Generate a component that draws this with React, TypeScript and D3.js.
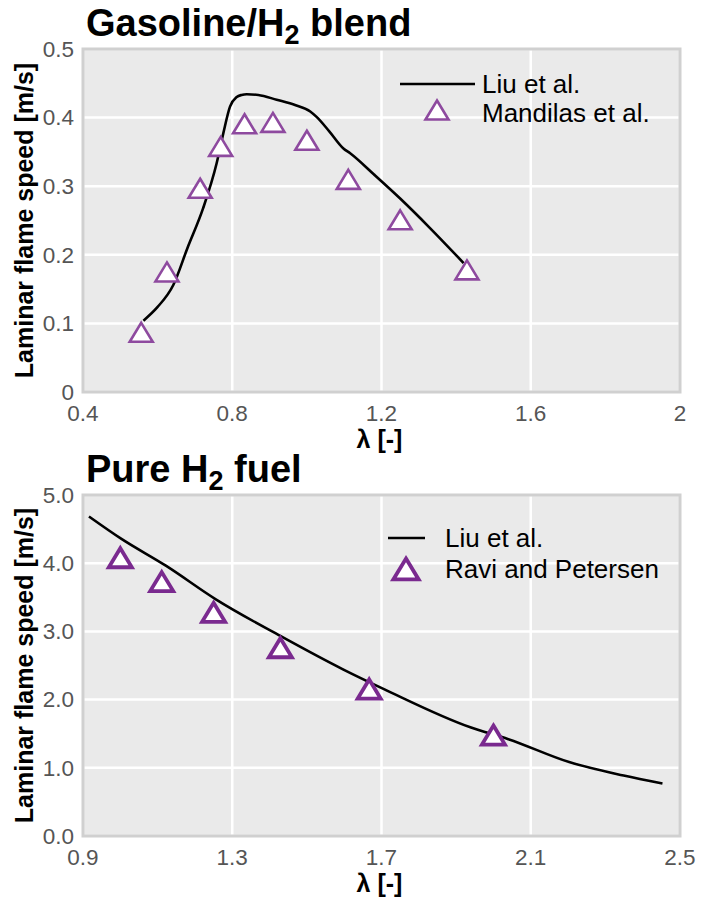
import React from "react";
import * as d3 from "d3";

// ---- Data: Gasoline/H2 blend ----
const blendLiuLambda = [0.562, 0.6, 0.642, 0.68, 0.722, 0.758, 0.776, 0.794, 0.812, 0.825, 0.839, 0.87, 0.919, 0.97, 1.009, 1.026, 1.06, 1.098, 1.116, 1.18, 1.25, 1.33, 1.42];
const blendLiuSpeed = [0.104, 0.124, 0.156, 0.21, 0.268, 0.333, 0.377, 0.416, 0.43, 0.433, 0.434, 0.433, 0.426, 0.418, 0.409, 0.401, 0.38, 0.355, 0.348, 0.317, 0.282, 0.239, 0.188];
const blendExpLambda = [0.556, 0.625, 0.714, 0.769, 0.833, 0.909, 1.0, 1.111, 1.25, 1.429];
const blendExpSpeed = [0.087, 0.175, 0.297, 0.358, 0.391, 0.393, 0.367, 0.31, 0.251, 0.178];
const blendXTicks = [0.4, 0.8, 1.2, 1.6, 2];
const blendXTickLabels = ["0.4", "0.8", "1.2", "1.6", "2"];
const blendYTicks = [0, 0.1, 0.2, 0.3, 0.4, 0.5];
const blendYTickLabels = ["0", "0.1", "0.2", "0.3", "0.4", "0.5"];

// ---- Data: Pure H2 fuel ----
const h2LiuLambda = [0.916, 1.002, 1.123, 1.256, 1.43, 1.598, 1.708, 1.94, 2.04, 2.205, 2.349, 2.453];
const h2LiuSpeed = [4.685, 4.36, 3.96, 3.47, 2.93, 2.44, 2.15, 1.59, 1.42, 1.08, 0.887, 0.77];
const h2ExpLambda = [1.0, 1.111, 1.25, 1.429, 1.667, 2.0];
const h2ExpSpeed = [4.08, 3.73, 3.28, 2.76, 2.155, 1.48];
const h2XTicks = [0.9, 1.3, 1.7, 2.1, 2.5];
const h2XTickLabels = ["0.9", "1.3", "1.7", "2.1", "2.5"];
const h2YTicks = [0, 1, 2, 3, 4, 5];
const h2YTickLabels = ["0.0", "1.0", "2.0", "3.0", "4.0", "5.0"];

const FONT = "'Liberation Sans', Arial, Helvetica, sans-serif";

type PanelProps = {
  top: number;
  bottom: number;
  title: string;
  titleSuffix: string;
  xDomain: [number, number];
  yDomain: [number, number];
  xTicks: number[];
  xTickLabels: string[];
  yTicks: number[];
  yTickLabels: string[];
  lineX: number[];
  lineY: number[];
  ptsX: number[];
  ptsY: number[];
  expLabel: string;
  markerColor: string;
  markerStroke: number;
  markerHalfW: number;
  markerHalfH: number;
  legend: { lineX0: number; lineX1: number; lineY: number; textX: number; row1: number; row2: number; triX: number; triY: number; fontSize: number; triScale: number };
};

const LEFT = 83;
const RIGHT = 680;

function tri(cx: number, cy: number, hw: number, hh: number) {
  return `M${cx},${cy - hh}L${cx + hw},${cy + hh}L${cx - hw},${cy + hh}Z`;
}

function Panel(p: PanelProps) {
  const x = d3.scaleLinear().domain(p.xDomain).range([LEFT, RIGHT]);
  const y = d3.scaleLinear().domain(p.yDomain).range([p.bottom, p.top]);
  const line = d3
    .line<number>()
    .x((_, i) => x(p.lineX[i]))
    .y((d) => y(d))
    .curve(d3.curveMonotoneX);
  const lg = p.legend;
  return (
    <g>
      <text x={86} y={p.top - 13} fontFamily={FONT} fontWeight="bold" fontSize={38} fill="#000">
        {p.title}
        <tspan fontSize={27} dy={8}>2</tspan>
        <tspan dy={-8}>{p.titleSuffix}</tspan>
      </text>
      <rect x={LEFT} y={p.top} width={RIGHT - LEFT} height={p.bottom - p.top} fill="#eaeaea" />
      {p.xTicks.map((t, i) => (
        <line key={"gx" + i} x1={x(t)} x2={x(t)} y1={p.top} y2={p.bottom} stroke="#fff" strokeWidth={2.5} />
      ))}
      {p.yTicks.map((t, i) => (
        <line key={"gy" + i} x1={LEFT} x2={RIGHT} y1={y(t)} y2={y(t)} stroke="#fff" strokeWidth={2.5} />
      ))}
      <rect x={LEFT} y={p.top} width={RIGHT - LEFT} height={p.bottom - p.top} fill="none" stroke="#d0d0d0" strokeWidth={3} />
      <path d={line(p.lineY) || ""} fill="none" stroke="#000" strokeWidth={2.6} />
      {p.ptsX.map((v, i) => (
        <path key={"pt" + i} d={tri(x(v), y(p.ptsY[i]), p.markerHalfW, p.markerHalfH)} fill="#fff" stroke={p.markerColor} strokeWidth={p.markerStroke} strokeLinejoin="miter" />
      ))}
      {p.yTicks.map((t, i) => (
        <text key={"ty" + i} x={LEFT - 9} y={y(t)} dy="0.35em" textAnchor="end" fontFamily={FONT} fontSize={22.5} fill="#555">
          {p.yTickLabels[i]}
        </text>
      ))}
      {p.xTicks.map((t, i) => (
        <text key={"tx" + i} x={x(t)} y={p.bottom + 29} textAnchor="middle" fontFamily={FONT} fontSize={22.5} fill="#555">
          {p.xTickLabels[i]}
        </text>
      ))}
      <text x={(LEFT + RIGHT) / 2 - 2} y={p.bottom + 56} textAnchor="middle" fontFamily={FONT} fontWeight="bold" fontSize={25} fill="#000">
        λ [-]
      </text>
      <text
        transform={`translate(33,${(p.top + p.bottom) / 2}) rotate(-90)`}
        textAnchor="middle"
        fontFamily={FONT}
        fontWeight="bold"
        fontSize={25}
        fill="#000"
      >
        Laminar flame speed [m/s]
      </text>
      {/* legend */}
      <line x1={lg.lineX0} x2={lg.lineX1} y1={lg.lineY} y2={lg.lineY} stroke="#000" strokeWidth={2.6} />
      <path d={tri(lg.triX, lg.triY, p.markerHalfW * lg.triScale, p.markerHalfH * lg.triScale)} fill="#fff" stroke={p.markerColor} strokeWidth={p.markerStroke} />
      <text x={lg.textX} y={lg.row1} fontFamily={FONT} fontSize={lg.fontSize} fill="#000">Liu et al.</text>
      <text x={lg.textX} y={lg.row2} fontFamily={FONT} fontSize={lg.fontSize} fill="#000">{p.expLabel}</text>
    </g>
  );
}

export default function App() {
  return (
    <svg width={714} height={905} style={{ position: "absolute", left: 0, top: 0, background: "#fff" }}>
      <Panel
        top={49}
        bottom={392}
        title="Gasoline/H"
        titleSuffix=" blend"
        xDomain={[0.4, 2]}
        yDomain={[0, 0.5]}
        xTicks={blendXTicks}
        xTickLabels={blendXTickLabels}
        yTicks={blendYTicks}
        yTickLabels={blendYTickLabels}
        lineX={blendLiuLambda}
        lineY={blendLiuSpeed}
        ptsX={blendExpLambda}
        ptsY={blendExpSpeed}
        expLabel="Mandilas et al."
        markerColor="#8e4a9f"
        markerStroke={2.6}
        markerHalfW={11.5}
        markerHalfH={9.5}
        legend={{ lineX0: 400, lineX1: 475, lineY: 84, textX: 482, row1: 93, row2: 122, triX: 437, triY: 110, fontSize: 26, triScale: 1 }}
      />
      <Panel
        top={495}
        bottom={836}
        title="Pure H"
        titleSuffix=" fuel"
        xDomain={[0.9, 2.5]}
        yDomain={[0, 5]}
        xTicks={h2XTicks}
        xTickLabels={h2XTickLabels}
        yTicks={h2YTicks}
        yTickLabels={h2YTickLabels}
        lineX={h2LiuLambda}
        lineY={h2LiuSpeed}
        ptsX={h2ExpLambda}
        ptsY={h2ExpSpeed}
        expLabel="Ravi and Petersen"
        markerColor="#7a2a8f"
        markerStroke={3.8}
        markerHalfW={11.5}
        markerHalfH={9.5}
        legend={{ lineX0: 388, lineX1: 425, lineY: 538, textX: 445, row1: 547, row2: 578, triX: 406, triY: 569, fontSize: 26, triScale: 1.1 }}
      />
    </svg>
  );
}
